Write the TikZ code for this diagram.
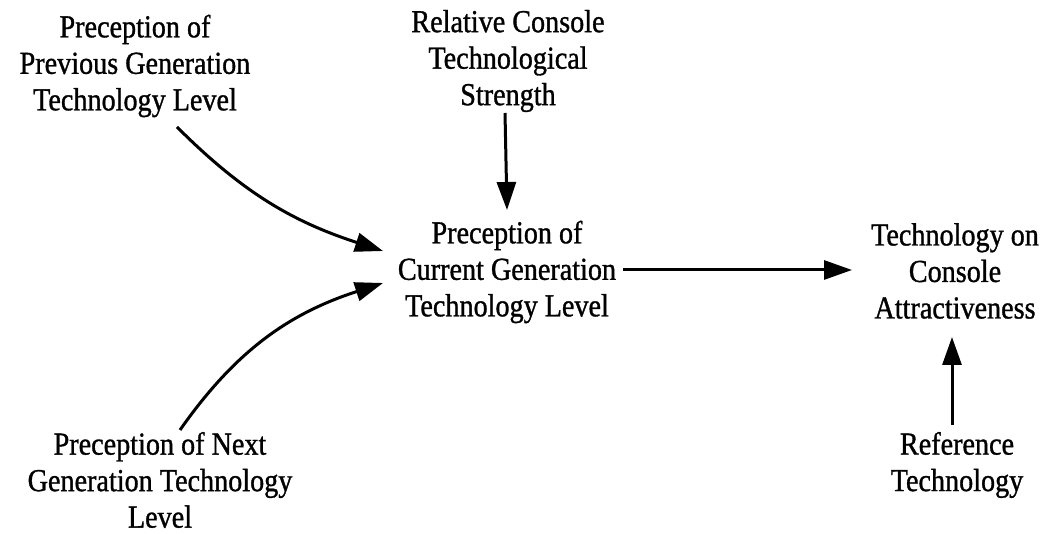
\documentclass[tikz,border=0pt]{standalone}
\usepackage{fontspec}
\setmainfont{Liberation Serif}[FakeStretch=0.88,FakeBold=1]
\usetikzlibrary{arrows.meta}
\begin{document}
\begin{tikzpicture}[x=1pt,y=1pt,
  label/.style={align=center,inner sep=0pt,font=\fontsize{32}{36.5}\selectfont},
  link/.style={line width=3pt,-{Triangle[length=28pt,width=19pt]}}]
\useasboundingbox[fill=white] (0,0) rectangle (1048,534);
% variables
\node[label] (A) at (135,468) {Preception of\\Previous Generation\\Technology Level};
\node[label] (B) at (508,473) {Relative Console\\Technological\\Strength};
\node[label] (C) at (507,262) {Preception of\\Current Generation\\Technology Level};
\node[label] (D) at (955,263) {Technology on\\Console\\Attractiveness};
\node[label] (E) at (160,54) {Preception of Next\\Generation Technology\\Level};
\node[label] (F) at (957,69) {Reference\\Technology};
% causal links
\draw[link] ([shift={(42,-61)}]A.center) to[out=-45,in=162] ([shift={(-124,21)}]C.center);
\draw[link] ([shift={(20,50)}]E.center) to[out=55,in=198] ([shift={(-124,-11)}]C.center);
\draw[link] ([shift={(-3,-52)}]B.center) -- ([shift={(0,62)}]C.center);
\draw[link] ([shift={(116,2)}]C.center) -- ([shift={(-103,1)}]D.center);
\draw[link] ([shift={(-5,40)}]F.center) -- ([shift={(-3,-66)}]D.center);
\end{tikzpicture}
\end{document}
